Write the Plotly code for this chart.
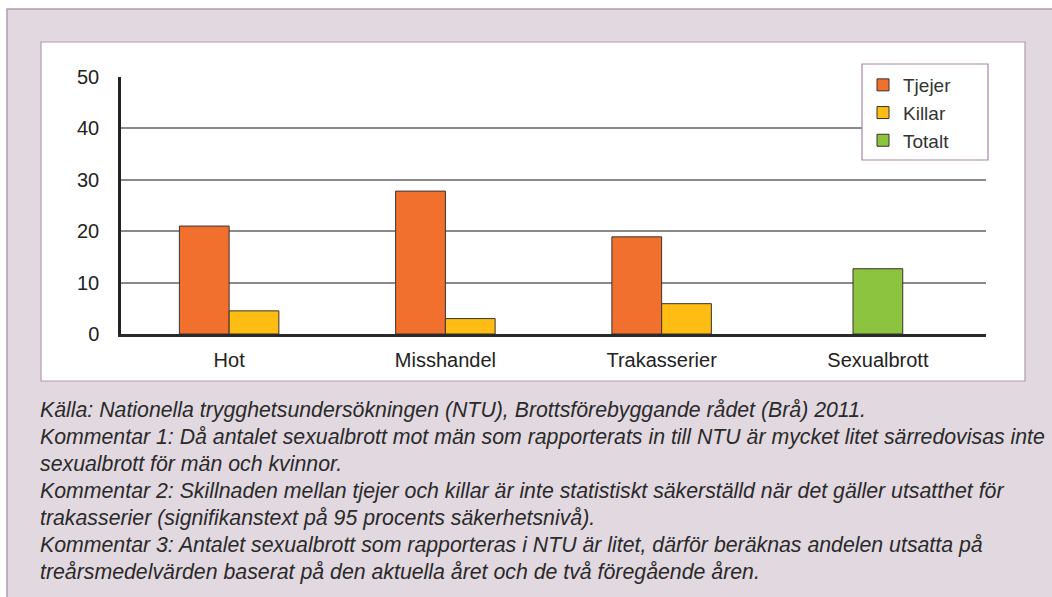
import plotly.graph_objects as go

categories = ["Hot", "Misshandel", "Trakasserier", "Sexualbrott"]
tjejer = [21.0, 27.8, 18.9, None]
killar = [4.5, 3.0, 5.9, None]
totalt = [None, None, None, 12.7]
y_ticks = [0, 10, 20, 30, 40, 50]
notes = [
    "Källa: Nationella trygghetsundersökningen (NTU), Brottsförebyggande rådet (Brå) 2011.",
    "Kommentar 1: Då antalet sexualbrott mot män som rapporterats in till NTU är mycket litet särredovisas inte",
    "sexualbrott för män och kvinnor.",
    "Kommentar 2: Skillnaden mellan tjejer och killar är inte statistiskt säkerställd när det gäller utsatthet för",
    "trakasserier (signifikanstext på 95 procents säkerhetsnivå).",
    "Kommentar 3: Antalet sexualbrott som rapporteras i NTU är litet, därför beräknas andelen utsatta på",
    "treårsmedelvärden baserat på den aktuella året och de två föregående åren.",
]

W, H = 1052, 597
L, R, T, B = 121, 986, 77, 334

def px(x):
    return (x - L) / (R - L)

def py(y):
    return (B - y) / (B - T)

bw = 0.23
line = dict(color="#3a3030", width=1)
fig = go.Figure()
fig.add_trace(go.Bar(name="Tjejer", x=categories, y=tjejer, width=bw, offset=-bw,
                     marker=dict(color="#f2702d", line=line)))
fig.add_trace(go.Bar(name="Killar", x=categories, y=killar, width=bw, offset=0,
                     marker=dict(color="#fdbd12", line=line)))
fig.add_trace(go.Bar(name="Totalt", x=categories, y=totalt, width=bw, offset=-bw / 2,
                     marker=dict(color="#8dc43f", line=line)))

shapes = [
    dict(type="rect", xref="paper", yref="paper", x0=px(7), x1=px(1060), y0=py(9), y1=py(610),
         fillcolor="#e2d8e0", line=dict(color="#b39ab0", width=1.5), layer="below"),
    dict(type="rect", xref="paper", yref="paper", x0=px(41), x1=px(1025), y0=py(42), y1=py(381),
         fillcolor="white", line=dict(color="#b39ab0", width=1.2), layer="below"),
    # legend frame
    dict(type="rect", xref="paper", yref="paper", x0=px(862), x1=px(988), y0=py(64), y1=py(160),
         fillcolor="white", line=dict(color="#a48aa2", width=1.2), layer="above"),
]

annotations = []
y0 = 410
for i, t in enumerate(notes):
    annotations.append(dict(text=t, xref="paper", yref="paper", x=px(38), y=py(y0 + i * 27.0),
                            xanchor="left", yanchor="middle", showarrow=False,
                            font=dict(family="Liberation Sans, Arial", size=21.3,
                                      color="#2a2a2a", style="italic")))

fig.update_layout(
    width=W, height=H,
    margin=dict(l=L, r=W - R, t=T, b=H - B, pad=0),
    paper_bgcolor="white",
    plot_bgcolor="rgba(0,0,0,0)",
    barmode="overlay",
    shapes=shapes,
    annotations=annotations,
    font=dict(family="Liberation Sans, Arial", size=20, color="#222"),
    showlegend=True,
    legend=dict(x=px(863), y=py(66), xanchor="left", yanchor="top",
                bgcolor="rgba(0,0,0,0)", borderwidth=0,
                font=dict(size=19, color="#333"), itemwidth=30, tracegroupgap=0),
    xaxis=dict(showgrid=False, showline=True, linecolor="#2a2a2a", linewidth=3,
               ticks="", tickfont=dict(size=20, color="#222"), range=[-0.5, 3.5],
               ticklabelstandoff=6),
    yaxis=dict(range=[0, 50], tickvals=y_ticks, showgrid=True, gridcolor="#8a8a8a", gridwidth=1.5,
               showline=True, linecolor="#222", linewidth=2.5, ticks="", zeroline=False,
               tickfont=dict(size=20, color="#222"), ticklabelstandoff=15),
)

fig.write_html("out.html", config={"displayModeBar": False},
               post_script="document.body.style.margin='0';")
